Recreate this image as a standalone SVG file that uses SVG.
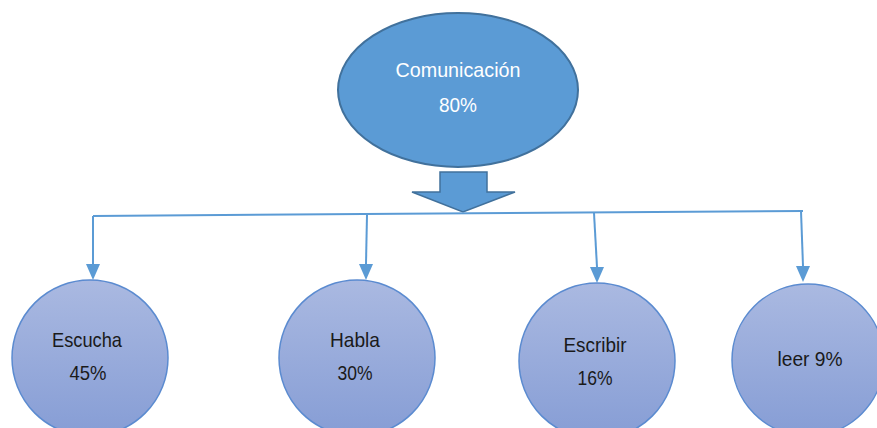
<svg xmlns="http://www.w3.org/2000/svg" width="877" height="428" viewBox="0 0 877 428">
<style>
.lbl{font-family:"Liberation Sans",Arial,sans-serif;font-size:21px;fill:#1a1a1a}
.top{font-family:"Liberation Sans",Arial,sans-serif;font-size:21px;fill:#ffffff}
.conn{stroke:#5B9BD5;stroke-width:2;fill:none}
.child{fill:url(#g);stroke:#5B8BD0;stroke-width:1.5}
.head{fill:#5B9BD5}
</style>
<defs>
<linearGradient id="g" x1="0" y1="0" x2="0" y2="1">
<stop offset="0" stop-color="#AAB9E1"/>
<stop offset="1" stop-color="#869DD5"/>
</linearGradient>
</defs>
<rect width="877" height="428" fill="#ffffff"/>
<g id="comunicacion">
<ellipse cx="458" cy="90" rx="120" ry="77" fill="#5B9BD5" stroke="#41719C" stroke-width="2"/>
<text class="top" x="458" y="77" text-anchor="middle" textLength="125" lengthAdjust="spacingAndGlyphs">Comunicación</text>
<text class="top" x="458" y="112" text-anchor="middle" textLength="38" lengthAdjust="spacingAndGlyphs">80%</text>
</g>
<g id="block-arrow">
<path d="M440,172 L487,172 L487,192 L515,192 L463,212 L412,192 L440,192 Z" fill="#5B9BD5" stroke="#41719C" stroke-width="1.5"/>
</g>
<g id="connectors">
<path class="conn" d="M93,216 L803,211"/>
<path d="M93,216 L93,264" class="conn"/>
<path class="head" d="M86,264 L100,264 L93,280 Z"/>
<path d="M367,215 L366,264" class="conn"/>
<path class="head" d="M359,264 L373,264 L366,280 Z"/>
<path d="M594,213 L597,267" class="conn"/>
<path class="head" d="M590,267 L604,267 L597,283 Z"/>
<path d="M801,211 L803,266" class="conn"/>
<path class="head" d="M796,266 L810,266 L803,282 Z"/>
</g>
<g id="escucha">
<circle class="child" cx="90" cy="358" r="78"/>
<text class="lbl" x="87" y="347" text-anchor="middle" textLength="70" lengthAdjust="spacingAndGlyphs">Escucha</text>
<text class="lbl" x="88" y="380" text-anchor="middle" textLength="37" lengthAdjust="spacingAndGlyphs">45%</text>
</g>
<g id="habla">
<circle class="child" cx="357" cy="358" r="78"/>
<text class="lbl" x="355" y="347" text-anchor="middle" textLength="50" lengthAdjust="spacingAndGlyphs">Habla</text>
<text class="lbl" x="355" y="380" text-anchor="middle" textLength="35" lengthAdjust="spacingAndGlyphs">30%</text>
</g>
<g id="escribir">
<circle class="child" cx="597" cy="361" r="78"/>
<text class="lbl" x="595" y="352" text-anchor="middle" textLength="63" lengthAdjust="spacingAndGlyphs">Escribir</text>
<text class="lbl" x="595" y="385" text-anchor="middle" textLength="35" lengthAdjust="spacingAndGlyphs">16%</text>
</g>
<g id="leer">
<circle class="child" cx="808" cy="360" r="76"/>
<text class="lbl" x="810" y="366" text-anchor="middle" textLength="65" lengthAdjust="spacingAndGlyphs">leer 9%</text>
</g>
</svg>
